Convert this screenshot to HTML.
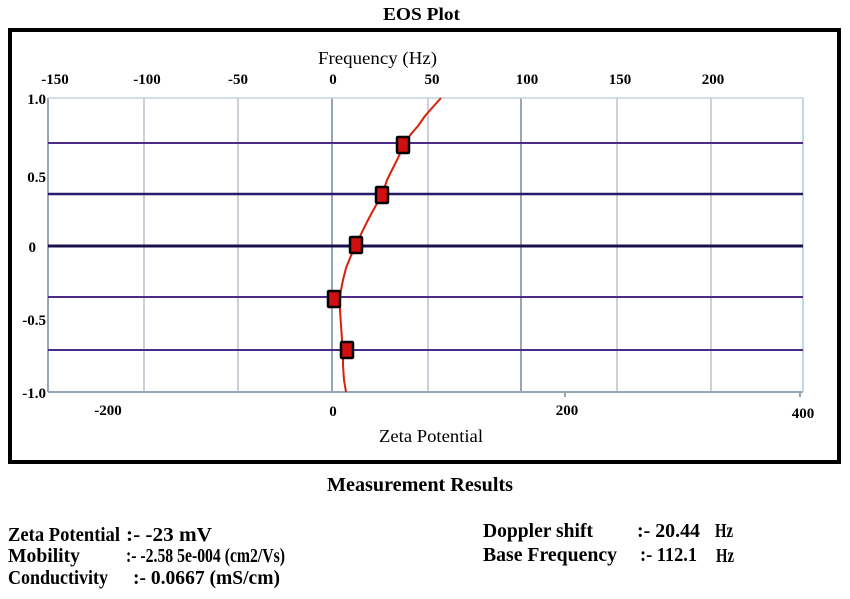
<!DOCTYPE html>
<html><head><meta charset="utf-8"><style>
html,body{margin:0;padding:0;background:#fff;}
svg{display:block;}
text{font-family:"Liberation Serif",serif;font-weight:bold;fill:#000;}
</style></head><body>
<svg width="850" height="599" viewBox="0 0 850 599" xmlns="http://www.w3.org/2000/svg">
<text x="383" y="20" font-size="18" textLength="77" lengthAdjust="spacingAndGlyphs">EOS Plot</text>
<rect x="10" y="30" width="829" height="432" fill="none" stroke="#000" stroke-width="4"/>
<g stroke="#b8c2cf" stroke-width="1.5">
<line x1="144" y1="98" x2="144" y2="392"/>
<line x1="238" y1="98" x2="238" y2="392"/>
<line x1="428" y1="98" x2="428" y2="392"/>
<line x1="617" y1="98" x2="617" y2="392"/>
<line x1="711" y1="98" x2="711" y2="392"/>
</g>
<g stroke="#9aa5b3" stroke-width="2">
<line x1="332" y1="98" x2="332" y2="392"/>
<line x1="521" y1="98" x2="521" y2="392"/>
<line x1="48" y1="98" x2="48" y2="392"/>
<line x1="48" y1="392" x2="803" y2="392"/>
</g>
<line x1="48" y1="98" x2="803" y2="98" stroke="#c5d3e3" stroke-width="1.5"/>
<line x1="803" y1="98" x2="803" y2="392" stroke="#a9cde6" stroke-width="1.5"/>
<line x1="565" y1="392" x2="565" y2="397" stroke="#9aa5b3" stroke-width="2"/>
<line x1="800" y1="392" x2="800" y2="397" stroke="#9aa5b3" stroke-width="2"/>
<g stroke-width="2">
<line x1="48" y1="143" x2="803" y2="143" stroke="#4a2a8a"/>
<line x1="48" y1="194" x2="803" y2="194" stroke="#2a1a6a" stroke-width="2.5"/>
<line x1="48" y1="246" x2="803" y2="246" stroke="#1a1050" stroke-width="3"/>
<line x1="48" y1="297" x2="803" y2="297" stroke="#4a2a8a"/>
<line x1="48" y1="350" x2="803" y2="350" stroke="#4a2a8a"/>
</g>
<polyline fill="none" stroke="#d8200a" stroke-width="2" points="441,98 432,108 425,116 418,126 411,134 405,143 398,158 393,168 387,180 382,195 375,207 368,220 362,232 356,245 350,258 346,268 343,280 341,290 340,297 340,310 341,325 342,340 343,350 343,365 344,380 346,392"/>
<g stroke="#000" stroke-width="2.5" fill="#d01010">
<rect x="397" y="137" width="12" height="16" rx="1"/>
<rect x="376" y="187" width="12" height="16" rx="1"/>
<rect x="350" y="237" width="12" height="16" rx="1"/>
<rect x="328" y="291" width="12" height="16" rx="1"/>
<rect x="341" y="342" width="12" height="16" rx="1"/>
</g>
<text x="318" y="64" font-size="18" style="font-weight:normal" textLength="119" lengthAdjust="spacingAndGlyphs">Frequency (Hz)</text>
<g font-size="15" text-anchor="middle">
<text x="55" y="84">-150</text><text x="147" y="84">-100</text><text x="238" y="84">-50</text>
<text x="333" y="84">0</text><text x="432" y="84">50</text><text x="527" y="84">100</text>
<text x="620" y="84">150</text><text x="713" y="84">200</text>
</g>
<g font-size="15" text-anchor="end">
<text x="46" y="104">1.0</text><text x="46" y="182">0.5</text><text x="36" y="252">0</text>
<text x="46" y="325">-0.5</text><text x="46" y="398">-1.0</text>
</g>
<g font-size="15" text-anchor="middle">
<text x="108" y="415">-200</text><text x="333" y="416">0</text><text x="567" y="415">200</text><text x="803" y="418">400</text>
</g>
<text x="379" y="442" font-size="18" style="font-weight:normal" textLength="104" lengthAdjust="spacingAndGlyphs">Zeta Potential</text>
<text x="327" y="491" font-size="20" textLength="186" lengthAdjust="spacingAndGlyphs">Measurement Results</text>
<g font-size="20">
<text x="8" y="541" textLength="112" lengthAdjust="spacingAndGlyphs">Zeta Potential</text>
<text x="126" y="541" textLength="86" lengthAdjust="spacingAndGlyphs">:- -23 mV</text>
<text x="8" y="562" textLength="72" lengthAdjust="spacingAndGlyphs">Mobility</text>
<text x="126" y="562" textLength="159" lengthAdjust="spacingAndGlyphs">:- -2.58 5e-004  (cm2/Vs)</text>
<text x="8" y="584" textLength="100" lengthAdjust="spacingAndGlyphs">Conductivity</text>
<text x="133" y="584" textLength="147" lengthAdjust="spacingAndGlyphs">:- 0.0667 (mS/cm)</text>
<text x="483" y="537" textLength="110" lengthAdjust="spacingAndGlyphs">Doppler shift</text>
<text x="637" y="537" textLength="63" lengthAdjust="spacingAndGlyphs">:- 20.44</text>
<text x="715" y="537" textLength="18" lengthAdjust="spacingAndGlyphs">Hz</text>
<text x="483" y="561" textLength="134" lengthAdjust="spacingAndGlyphs">Base Frequency</text>
<text x="640" y="561" textLength="57" lengthAdjust="spacingAndGlyphs">:- 112.1</text>
<text x="716" y="562" textLength="18" lengthAdjust="spacingAndGlyphs">Hz</text>
</g>
</svg>
</body></html>
